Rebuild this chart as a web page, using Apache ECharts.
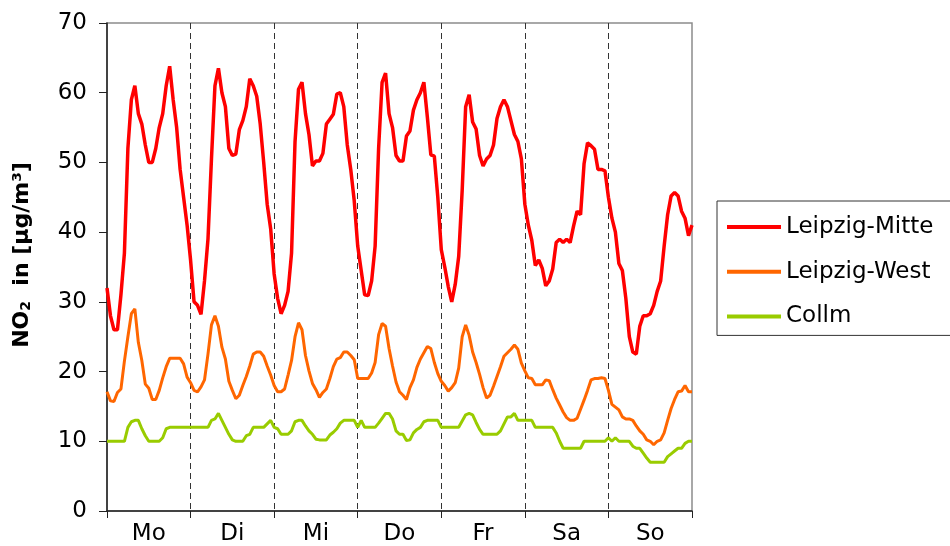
<!DOCTYPE html>
<html>
<head>
<meta charset="utf-8">
<script src="https://cdn.jsdelivr.net/npm/echarts@6/dist/echarts.min.js"></script>
<style>
  html, body { margin: 0; padding: 0; background: #fff; }
  #chart { width: 950px; height: 546px; }
</style>
</head>
<body>
<div id="chart"></div>
<script>
// weekdays (one category per day, 24 hourly values each)
var days = ['Mo', 'Di', 'Mi', 'Do', 'Fr', 'Sa', 'So']

// NO2 hourly means, hour 0 .. 168
var mitte = [
  32, 28, 26, 26, 31, 37, 52, 59, 61, 57, 55.5, 52.5, 50, 50, 52, 55, 57, 61, 63.8, 59, 55, 49, 45, 41,
  36, 30, 29.5, 28.2, 33, 39, 50.5, 61, 63.5, 60, 58, 52, 51, 51.2, 54.7, 56, 58, 62, 61, 59.5, 55.5, 50, 44, 40.5,
  34, 30.5, 28.3, 29.5, 31.5, 37, 53, 60.5, 61.5, 57, 54, 49.5, 50.2, 50.2, 51.3, 55.5, 56.2, 56.9, 59.8, 60, 58, 52.5, 49, 44.5,
  38, 34.5, 31, 30.9, 33, 38, 52, 61.5, 62.8, 57, 55, 51, 50.2, 50.2, 53.8, 54.5, 57.5, 59, 60, 61.5, 56.5, 51.1, 50.9, 45,
  37.5, 35, 32.2, 30, 32.5, 36.5, 46, 58, 59.7, 55.8, 54.8, 51, 49.5, 50.5, 51, 52.5, 56.3, 58, 59, 58, 56, 54, 53, 50.5,
  44, 41, 38.8, 35.2, 36, 34.8, 32.3, 33, 34.7, 38.5, 39, 38.5, 39, 38.5, 40.9, 43, 42.5, 49.8, 52.8, 52.4, 51.9, 49, 49, 48.8,
  45, 42, 40, 35.5, 34.5, 30.5, 25, 22.8, 22.5, 26.5, 28, 28, 28.3, 29.5, 31.5, 33, 38, 42.5, 45.2, 45.7, 45.2, 43, 42, 39.5, 41
]
var west = [
  17.1, 15.8, 15.7, 17, 17.5, 21.5, 25, 28.3, 29, 24.2, 21.6, 18.2, 17.6, 16, 16, 17.3, 19.1, 20.7, 21.9, 21.9, 21.9, 21.9, 21.1, 19.2,
  18.4, 17.3, 17.1, 17.8, 18.8, 22.5, 26.7, 28, 26.5, 23.5, 21.8, 18.6, 17.3, 16.1, 16.6, 18, 19.3, 20.8, 22.5, 22.8, 22.8, 22.2, 20.8, 19.5,
  18, 17.1, 17.1, 17.5, 19.5, 21.6, 25, 27, 26, 22.3, 20.1, 18.3, 17.4, 16.3, 17, 17.5, 19, 20.7, 21.8, 22, 22.8, 22.8, 22.3, 21.7,
  19, 19, 19, 19, 19.8, 21.3, 25.3, 26.9, 26.5, 23.3, 20.8, 18.5, 17.1, 16.6, 16, 17.7, 18.8, 20.6, 21.8, 22.7, 23.6, 23.3, 21.3, 19.7,
  18.6, 18, 17.2, 17.7, 18.4, 20.5, 25, 26.7, 25.2, 22.8, 21.3, 19.6, 17.7, 16.2, 16.6, 17.9, 19.3, 20.7, 22.2, 22.7, 23.2, 23.8, 23.2, 21.2,
  20.1, 19.1, 19, 18.1, 18.1, 18.1, 18.8, 18.7, 17.4, 16.2, 15.2, 14.2, 13.4, 13, 13, 13.3, 14.6, 15.9, 17.3, 18.8, 19, 19, 19.1, 19,
  17.3, 15.3, 14.9, 14.5, 13.5, 13.2, 13.2, 13, 12.2, 11.5, 11, 10.2, 10, 9.5, 10, 10.2, 11.2, 13, 14.7, 16, 17.1, 17.2, 18, 17.1, 17.1
]
var collm = [
  10, 10, 10, 10, 10, 10, 12, 12.8, 13, 13, 11.8, 10.8, 10, 10, 10, 10, 10.5, 11.8, 12, 12, 12, 12, 12, 12,
  12, 12, 12, 12, 12, 12, 13, 13.2, 14, 13, 12, 11, 10.2, 10, 10, 10, 10.8, 11, 12, 12, 12, 12, 12.5, 13,
  12, 11.8, 11, 11, 11, 11.5, 12.8, 13, 13, 12.2, 11.5, 11, 10.3, 10.2, 10.2, 10.2, 10.9, 11.3, 11.8, 12.6, 13, 13, 13, 13,
  12, 13, 12, 12, 12, 12, 12.6, 13.3, 14, 14, 13.2, 11.5, 11, 11, 10.1, 10.2, 11.2, 11.7, 12, 12.8, 13, 13, 13, 13,
  12, 12, 12, 12, 12, 12, 12.9, 13.8, 14, 13.8, 12.7, 11.7, 11, 11, 11, 11, 11, 11.5, 12.5, 13.5, 13.5, 14, 13, 13,
  13, 13, 13, 12, 12, 12, 12, 12, 12, 11.2, 10, 9, 9, 9, 9, 9, 9, 10, 10, 10, 10, 10, 10, 10,
  10.5, 10, 10.5, 10, 10, 10, 10, 9.3, 9, 9, 8.3, 7.6, 7, 7, 7, 7, 7, 7.8, 8.2, 8.6, 9, 9, 9.7, 10, 10
]

function toPoints(arr) {
  return arr.map(function(v, i) { return [i, v] })
}

var font = 'DejaVu Sans'
var myChart = echarts.init(document.getElementById('chart'), null, { renderer: 'canvas' })

var option = {
  animation: false,
  backgroundColor: '#fff',
  grid: {
    left: 107,
    right: 258,
    top: 23,
    bottom: 33,
    show: true,
    borderColor: '#8c8c8c',
    borderWidth: 1.5
  },
  legend: {
    orient: 'vertical',
    left: 717,
    top: 201,
    icon: 'rect',
    itemWidth: 54,
    itemHeight: 4,
    itemGap: 20.7,
    padding: [14, 40, 7, 10],
    borderColor: '#333',
    borderWidth: 1,
    textStyle: { fontFamily: font, fontSize: 23, lineHeight: 24, color: '#000' },
    data: ['Leipzig-Mitte', 'Leipzig-West', 'Collm']
  },
  xAxis: [
    {
      type: 'value',
      min: 0,
      max: 168,
      interval: 24,
      axisLine: { show: true, lineStyle: { color: '#222', width: 1.5 } },
      axisTick: { show: true, length: 7, lineStyle: { color: '#222', width: 1 } },
      axisLabel: { show: false },
      splitLine: {
        show: true,
        showMinLine: false,
        showMaxLine: false,
        lineStyle: { color: '#333', width: 1, type: [6, 4] }
      }
    },
    {
      type: 'category',
      data: days,
      position: 'bottom',
      axisLine: { show: false },
      axisTick: { show: false },
      axisLabel: { fontFamily: font, fontSize: 23, color: '#000', margin: 12 }
    }
  ],
  yAxis: {
    type: 'value',
    min: 0,
    max: 70,
    interval: 10,
    name: '{a|NO}{b|2}{a|  in [µg/m³]}',
    nameLocation: 'middle',
    nameRotate: 90,
    nameGap: 74,
    nameTextStyle: {
      padding: [0, 0, 0, 24],
      rich: {
        a: { fontFamily: font, fontSize: 22, fontWeight: 'bold', color: '#000', lineHeight: 26, verticalAlign: 'bottom' },
        b: { fontFamily: font, fontSize: 14, fontWeight: 'bold', color: '#000', lineHeight: 26, verticalAlign: 'bottom', padding: [6, 0, 0, 0] }
      }
    },
    axisLine: { show: true, lineStyle: { color: '#222', width: 1.5 } },
    axisTick: { show: true, length: 8, lineStyle: { color: '#222', width: 1 } },
    axisLabel: { fontFamily: font, fontSize: 23, color: '#000', margin: 20 },
    splitLine: { show: false }
  },
  series: [
    {
      name: 'Leipzig-Mitte',
      type: 'line',
      xAxisIndex: 0,
      symbol: 'none',
      data: toPoints(mitte),
      lineStyle: { color: '#ff0000', width: 3.5 },
      itemStyle: { color: '#ff0000' },
      z: 4
    },
    {
      name: 'Leipzig-West',
      type: 'line',
      xAxisIndex: 0,
      symbol: 'none',
      data: toPoints(west),
      lineStyle: { color: '#ff6600', width: 3 },
      itemStyle: { color: '#ff6600' },
      z: 3
    },
    {
      name: 'Collm',
      type: 'line',
      xAxisIndex: 0,
      symbol: 'none',
      data: toPoints(collm),
      lineStyle: { color: '#99cc00', width: 3 },
      itemStyle: { color: '#99cc00' },
      z: 2
    }
  ]
}

option && myChart.setOption(option)
</script>
</body>
</html>
